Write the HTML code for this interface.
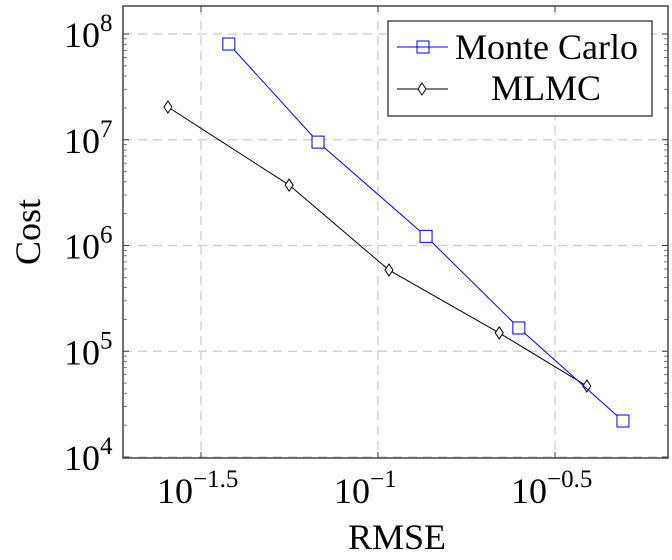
<!DOCTYPE html>
<html><head><meta charset="utf-8"><style>
body{margin:0;background:#fff}
svg text{font-family:"Liberation Serif",serif;fill:#000}
</style></head><body>
<svg width="672" height="555" xmlns="http://www.w3.org/2000/svg">
<g id="grid"></g>
<g id="ticks"></g>
<g id="series"></g>
<rect x="123" y="6" width="545" height="452" fill="none" stroke="#444" stroke-width="1.5"/>
<g id="labels"></g>
<text x="397" y="549" font-size="36" text-anchor="middle">RMSE</text>
<text transform="translate(40,232) rotate(-90)" font-size="36" text-anchor="middle">Cost</text>
<g>
<rect x="388" y="21" width="264" height="95" fill="#fff" stroke="#222" stroke-width="1.2"/>
<g>
<line x1="397" y1="47" x2="448" y2="47" stroke="#00f" stroke-width="1"/>
<rect x="417" y="41" width="12" height="12" fill="none" stroke="#00f" stroke-width="1"/>
<text x="455" y="59" font-size="36">Monte Carlo</text></g>
<g>
<line x1="397" y1="89" x2="448" y2="89" stroke="#000" stroke-width="1"/>
<path d="M422,83 L426,89 L422,95 L418,89 Z" fill="#fff" stroke="#000" stroke-width="1"/>
<text x="491" y="100" font-size="36">MLMC</text></g>
</g>
</svg>
<script>
const mcRmse=[0.0379,0.0677,0.1367,0.250,0.492];
const mcCost=[8.04e7,9.5e6,1.22e6,1.66e5,2.19e4];
const mlRmse=[0.0255,0.0561,0.1074,0.220,0.389];
const mlCost=[2.04e7,3.73e6,5.86e5,1.49e5,4.69e4];
const xTickExps=[-1.5,-1,-0.5];
const xTickLabels=["\u22121.5","\u22121","\u22120.5"];
const yTickExps=[4,5,6,7,8];
const ns="http://www.w3.org/2000/svg";
const X=v=>378+(Math.log10(v)+1)*354;
const Y=v=>34+(8-Math.log10(v))*105.75;
function mk(t,a,p){const e=document.createElementNS(ns,t);for(const k in a)e.setAttribute(k,a[k]);p.appendChild(e);return e;}
const grid=document.getElementById('grid'),ticks=document.getElementById('ticks'),labels=document.getElementById('labels'),series=document.getElementById('series');
xTickExps.forEach((e,i)=>{const x=X(Math.pow(10,e));
const g=mk('line',{x1:x,x2:x,y1:6,y2:458,stroke:'#ccc','stroke-dasharray':'9,6','stroke-width':1.2},grid);

mk('line',{x1:x,x2:x,y1:458,y2:452,stroke:'#444'},ticks);mk('line',{x1:x,x2:x,y1:6,y2:12,stroke:'#444'},ticks);
const t=mk('text',{x:x-44,y:503,'font-size':36},labels);t.textContent='10';

const s=mk('tspan',{dy:-16,'font-size':25},t);s.textContent=xTickLabels[i];});
yTickExps.forEach(e=>{const y=Y(Math.pow(10,e));
const g=mk('line',{x1:123,x2:668,y1:y,y2:y,stroke:'#ccc','stroke-dasharray':'9,6','stroke-width':1.2},grid);

mk('line',{x1:123,x2:129,y1:y,y2:y,stroke:'#444'},ticks);mk('line',{x1:668,x2:662,y1:y,y2:y,stroke:'#444'},ticks);
if(e<8)for(let m=2;m<10;m++){const ym=Y(m*Math.pow(10,e));mk('line',{x1:123,x2:127,y1:ym,y2:ym,stroke:'#666','stroke-width':0.8},ticks);mk('line',{x1:668,x2:664,y1:ym,y2:ym,stroke:'#666','stroke-width':0.8},ticks);}
const t=mk('text',{x:64,y:y+13,'font-size':36},labels);t.textContent='10';

const s=mk('tspan',{dy:-16,'font-size':25},t);s.textContent=String(e);});
function draw(xs,ys,col,shape,name){
const l=mk('polyline',{points:xs.map((v,i)=>X(v)+','+Y(ys[i])).join(' '),fill:'none',stroke:col,'stroke-width':1},series);

xs.forEach((v,i)=>{const x=X(v),y=Y(ys[i]);let m;
if(shape==='sq')m=mk('rect',{x:x-6,y:y-6,width:12,height:12,fill:'#fff',stroke:col},series);
else m=mk('path',{d:`M${x},${y-6} L${x+4},${y} L${x},${y+6} L${x-4},${y} Z`,fill:'#fff',stroke:col},series);
});}
draw(mlRmse,mlCost,'#000','di','mlmc');
draw(mcRmse,mcCost,'#00f','sq','monte-carlo');
</script>
</body></html>
